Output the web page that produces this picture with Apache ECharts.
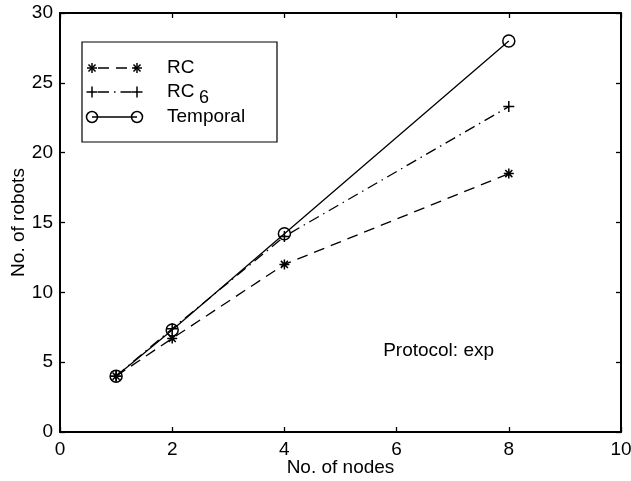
<!DOCTYPE html>
<html>
<head>
<meta charset="utf-8">
<script src="https://cdn.jsdelivr.net/npm/echarts@6/dist/echarts.min.js"></script>
<style>html,body{margin:0;padding:0;background:#fff}#c{width:631px;height:481px}</style>
</head>
<body>
<div id="c"></div>
<script>
// ---- data ----
const nodes = [1, 2, 4, 8];
const rcValues = [4, 6.7, 12, 18.5];
const rc6Values = [4, 7.4, 14, 23.3];
const temporalValues = [4, 7.3, 14.2, 28];
const seriesNames = ['RC', 'RC', 'Temporal'];
const rc6Subscript = '6';
const xAxisName = 'No. of nodes';
const yAxisName = 'No. of robots';
const xMin = 0, xMax = 10, xStep = 2;
const yMin = 0, yMax = 30, yStep = 5;
const noteText = 'Protocol: exp';
const notePos = [5.76, 5.8];

// ---- styles ----
const FONT = '"Liberation Sans", Arial, Helvetica, sans-serif';
const FS = 19;
const ASTERISK = 'path://M0,-10L0,10M-10,0L10,0M-7.07,-7.07L7.07,7.07M-7.07,7.07L7.07,-7.07';
const PLUS = 'path://M0,-10L0,10M-10,0L10,0';
const dashRC = [11, 7];
const dashRC6 = [11, 5, 1.5, 5];
const LW = 1.3;

const chart = echarts.init(document.getElementById('c'), null, {renderer: 'canvas'});

function mk(d) { return nodes.map((x, i) => [x, d[i]]); }

const axisCommon = {
  type: 'value', splitLine: {show: false},
  axisLine: {show: true, onZero: false, lineStyle: {color: '#000', width: 2}},
  axisTick: {show: true, inside: true, length: 5, lineStyle: {color: '#000', width: 1.3}},
};

const markerStyle = {color: 'rgba(0,0,0,0)', borderColor: '#000', borderWidth: 1.5, opacity: 1};

// legend graphics
const LX0 = 82, LY0 = 42, LX1 = 277, LY1 = 142;
const rows = [68, 92, 117];
const mA = 92, mB = 137, tX = 167;
function asteriskG(cx, cy, r) {
  const k = r * 0.707;
  return [[0,-r,0,r],[-r,0,r,0],[-k,-k,k,k],[-k,k,k,-k]].map(s => ({
    type: 'line', shape: {x1: cx + s[0], y1: cy + s[1], x2: cx + s[2], y2: cy + s[3]},
    style: {stroke: '#000', lineWidth: 1.5}, z: 100
  }));
}
function plusG(cx, cy, r) {
  return [[0,-r,0,r],[-r,0,r,0]].map(s => ({
    type: 'line', shape: {x1: cx + s[0], y1: cy + s[1], x2: cx + s[2], y2: cy + s[3]},
    style: {stroke: '#000', lineWidth: 1.5}, z: 100
  }));
}
const tStyle = (t, size) => ({text: t, font: size + 'px ' + FONT, fill: '#000', verticalAlign: 'middle'});
const legendG = [
  {type: 'rect', shape: {x: LX0, y: LY0, width: LX1 - LX0, height: LY1 - LY0},
   style: {fill: '#fff', stroke: '#000', lineWidth: 1.2}, z: 99},
  {type: 'line', shape: {x1: mA, y1: rows[0], x2: mB, y2: rows[0]}, style: {stroke: '#000', lineWidth: LW, lineDash: dashRC, lineDashOffset: -6}, z: 100},
  ...asteriskG(mA, rows[0], 5), ...asteriskG(mB, rows[0], 5),
  {type: 'line', shape: {x1: mA, y1: rows[1], x2: mB, y2: rows[1]}, style: {stroke: '#000', lineWidth: LW, lineDash: dashRC6, lineDashOffset: -6}, z: 100},
  ...plusG(mA, rows[1], 5.5), ...plusG(mB, rows[1], 5.5),
  {type: 'line', shape: {x1: mA, y1: rows[2], x2: mB, y2: rows[2]}, style: {stroke: '#000', lineWidth: LW}, z: 100},
  {type: 'circle', shape: {cx: mA, cy: rows[2], r: 5.5}, style: {fill: 'rgba(0,0,0,0)', stroke: '#000', lineWidth: 1.5}, z: 100},
  {type: 'circle', shape: {cx: mB, cy: rows[2], r: 5.5}, style: {fill: 'rgba(0,0,0,0)', stroke: '#000', lineWidth: 1.5}, z: 100},
  {type: 'text', x: tX, y: rows[0], style: tStyle(seriesNames[0], FS), z: 100},
  {type: 'text', x: tX, y: rows[1], style: tStyle(seriesNames[1], FS), z: 100},
  {type: 'text', x: tX + 32, y: rows[1] + 6, style: tStyle(rc6Subscript, FS - 1), z: 100},
  {type: 'text', x: tX, y: rows[2], style: tStyle(seriesNames[2], FS), z: 100},
];

chart.setOption({
  animation: false,
  backgroundColor: '#fff',
  textStyle: {fontFamily: FONT},
  grid: {left: 60, right: 10, top: 13, bottom: 49, containLabel: false, outerBoundsMode: 'none'},
  xAxis: [
    Object.assign({}, axisCommon, {
      position: 'bottom', min: xMin, max: xMax, interval: xStep,
      axisLabel: {color: '#000', fontSize: FS, fontFamily: FONT, margin: 8},
      name: xAxisName, nameLocation: 'middle', nameGap: 26, nameMoveOverlap: false,
      nameTextStyle: {color: '#000', fontSize: FS, fontFamily: FONT}
    }),
    Object.assign({}, axisCommon, {
      position: 'top', min: xMin, max: xMax, interval: xStep, axisLabel: {show: false}
    })
  ],
  yAxis: [
    Object.assign({}, axisCommon, {
      position: 'left', min: yMin, max: yMax, interval: yStep,
      axisLabel: {color: '#000', fontSize: FS, fontFamily: FONT, margin: 7},
      name: yAxisName, nameLocation: 'middle', nameGap: 32, nameMoveOverlap: false,
      nameTextStyle: {color: '#000', fontSize: FS, fontFamily: FONT}
    }),
    Object.assign({}, axisCommon, {
      position: 'right', min: yMin, max: yMax, interval: yStep, axisLabel: {show: false}
    })
  ],
  series: [
    {
      name: 'RC', type: 'line', data: mk(rcValues), symbol: ASTERISK, symbolSize: 10,
      lineStyle: {color: '#000', width: LW, type: dashRC}, itemStyle: markerStyle, z: 3
    },
    {
      name: 'RC6', type: 'line', data: mk(rc6Values), symbol: PLUS, symbolSize: 11,
      lineStyle: {color: '#000', width: LW, type: dashRC6}, itemStyle: markerStyle, z: 3
    },
    {
      name: 'Temporal', type: 'line', data: mk(temporalValues), symbol: 'circle', symbolSize: 12,
      lineStyle: {color: '#000', width: LW, type: 'solid'}, itemStyle: markerStyle, z: 4
    },
    {
      name: 'note', type: 'scatter', data: [notePos], symbolSize: 0, silent: true,
      itemStyle: {opacity: 1},
      label: {show: true, position: 'right', distance: 0, formatter: noteText, opacity: 1,
              color: '#000', fontSize: FS, fontFamily: FONT}
    }
  ],
  graphic: legendG
});
</script>
</body>
</html>
